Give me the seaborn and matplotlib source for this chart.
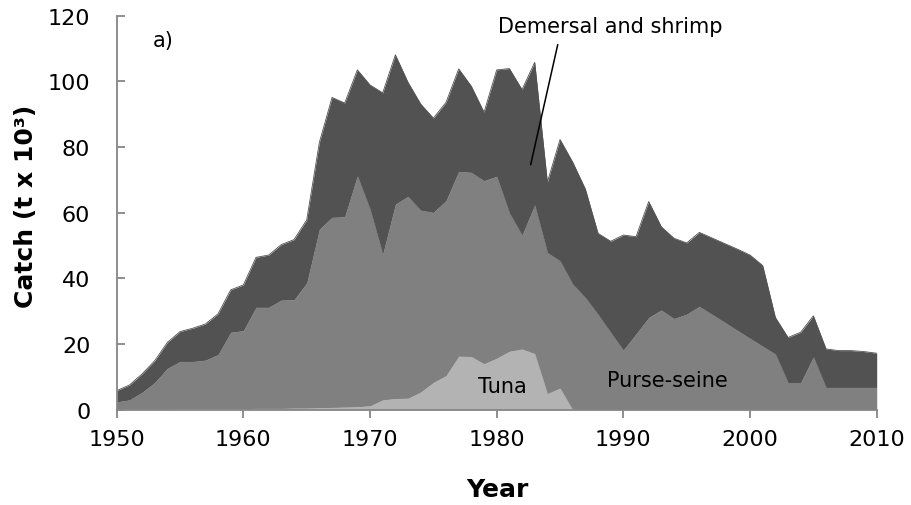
import numpy as np
import pandas as pd
import matplotlib
matplotlib.use("Agg")
import matplotlib.pyplot as plt
import seaborn as sns

# ---- data (thousand tonnes) ----
years = list(range(1950, 2011))

tuna = [0.2, 0.2, 0.2, 0.2, 0.2, 0.3, 0.3, 0.3, 0.3, 0.3, 0.3,
        0.4, 0.4, 0.4, 0.5, 0.5, 0.6, 0.7, 0.8, 0.9, 1.2,
        3.0, 3.4, 3.5, 5.4, 8.3, 10.4, 16.3, 16.2, 14.0, 15.7,
        17.8, 18.5, 17.1, 4.9, 6.6, 0, 0, 0, 0, 0,
        0, 0, 0, 0, 0, 0, 0, 0, 0, 0,
        0, 0, 0, 0, 0, 0, 0, 0, 0, 0]

purse_seine = [2.2, 2.8, 5.1, 8.1, 12.4, 14.4, 14.4, 14.8, 16.5, 23.3, 23.8,
               30.8, 30.8, 33.0, 33.0, 38.1, 54.4, 57.9, 58.0, 70.4, 59.9,
               44.4, 59.2, 61.5, 55.4, 51.8, 53.3, 56.3, 56.1, 55.8, 55.4,
               42.2, 34.7, 45.3, 43.0, 38.8, 38.3, 34.2, 29.1, 23.6, 18.2,
               23.1, 28.1, 30.4, 27.8, 29.1, 31.5, 29.1, 26.7, 24.2, 21.8,
               19.4, 17.0, 8.3, 8.3, 16.1, 6.8, 6.8, 6.8, 6.8, 6.8]

demersal = [3.4, 4.5, 5.6, 6.6, 7.9, 9.1, 10.1, 11.0, 12.4, 12.9, 13.9,
            15.2, 15.9, 16.9, 18.3, 19.2, 26.4, 36.5, 34.6, 32.2, 37.8,
            49.1, 45.5, 34.7, 32.3, 28.7, 29.9, 31.2, 26.2, 20.8, 32.4,
            43.9, 44.3, 43.4, 21.4, 36.9, 37.1, 33.0, 24.6, 27.7, 35.0,
            29.6, 35.3, 25.3, 24.4, 21.7, 22.5, 23.2, 23.9, 24.7, 25.3,
            24.5, 11.1, 13.7, 15.3, 12.5, 11.7, 11.2, 11.2, 10.9, 10.4]

series_names = ["Tuna", "Purse-seine", "Demersal and shrimp"]
x_ticks = [1950, 1960, 1970, 1980, 1990, 2000, 2010]
y_ticks = [0, 20, 40, 60, 80, 100, 120]

colors = ["#b3b3b3", "#808080", "#525252"]

sns.set_theme(style="white")
plt.rcParams["font.family"] = ["DejaVu Sans"]

df = pd.DataFrame({"Year": years, "Tuna": tuna,
                   "Purse-seine": purse_seine,
                   "Demersal and shrimp": demersal})

fig = plt.figure(figsize=(9.12, 5.06), dpi=100)
ax = fig.add_axes([116.7 / 912, 1 - 410.7 / 506, 760 / 912, 394 / 506])

lower = np.zeros(len(df))
for name, col in zip(series_names, colors):
    upper = lower + df[name].to_numpy()
    ax.fill_between(df["Year"], lower, upper, color=col, lw=0, zorder=2)
    sns.lineplot(x=df["Year"], y=upper, color=col, lw=0.6, ax=ax,
                 legend=False, zorder=2)
    lower = upper

ax.set_xlim(1950, 2010)
ax.set_ylim(0, 120)
ax.set_xticks(x_ticks)
ax.set_yticks(y_ticks)

for s in ["top", "right"]:
    ax.spines[s].set_visible(False)
for s in ["left", "bottom"]:
    ax.spines[s].set_color("#868686")
    ax.spines[s].set_linewidth(1.3)
    ax.spines[s].set_zorder(3)

ax.tick_params(axis="x", direction="out", length=5.8, width=1.3,
               color="#868686", pad=8, labelsize=16, labelcolor="black",
               bottom=True)
ax.tick_params(axis="y", direction="in", length=5.8, width=1.3,
               color="#868686", pad=19, labelsize=16, labelcolor="black",
               left=True)

ax.set_xlabel("Year", fontsize=18, fontweight="bold", color="black")
ax.set_ylabel("Catch (t x 10³)", fontsize=18, fontweight="bold", color="black")
ax.xaxis.label.set_verticalalignment("baseline")
ax.xaxis.set_label_coords((497.5 - 116.7) / 760, (410.7 - 496.7) / 394)
ax.yaxis.label.set_verticalalignment("center")
ax.yaxis.set_label_coords((26 - 116.7) / 760, (410.7 - 206) / 394)

# annotations
ax.text(1952.84, 110.8, "a)", fontsize=15, ha="left", va="baseline",
        color="black", zorder=5)
ax.text(1989.0, 114.96, "Demersal and shrimp", fontsize=15, ha="center",
        va="baseline", color="black", zorder=5)
ax.plot([1984.82, 1982.68], [111.2, 74.6], color="black", lw=1.1, zorder=5)
ax.text(1980.42, 5.5, "Tuna", fontsize=15, ha="center", va="baseline",
        color="black", zorder=5)
ax.text(1993.5, 7.3, "Purse-seine", fontsize=15, ha="center", va="baseline",
        color="black", zorder=5)

ax.grid(False)
fig.savefig("out.png", dpi=100)
